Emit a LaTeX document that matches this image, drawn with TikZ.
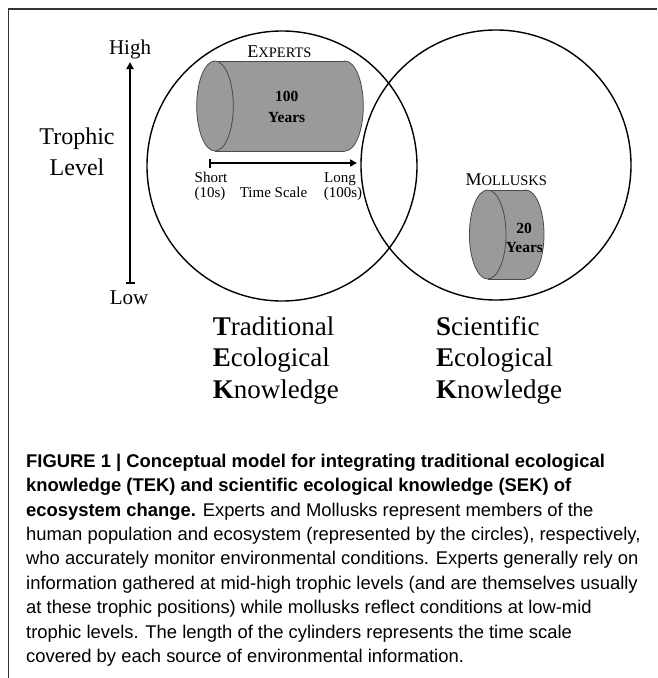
\documentclass[tikz,border=0pt]{standalone}
\usepackage{fontspec}
\setmainfont{Liberation Serif}
\newfontfamily\capfont{Liberation Sans}
\usetikzlibrary{arrows.meta}
\definecolor{cylgray}{HTML}{9A9A9A}
\definecolor{cyledge}{HTML}{4A4A4A}
\definecolor{framegray}{HTML}{333333}
\newcommand{\fsz}[1]{\fontsize{#1}{#1}\selectfont}
\newcommand{\smc}[2]{{\fsz{18}#1}{\fsz{14.5}#2}}
\begin{document}
\begin{tikzpicture}[x=1pt,y=-1pt,
  lbl/.style={inner sep=0pt, anchor=base},
  capline/.style={inner sep=0pt, anchor=base west, font=\capfont\fsz{18.4}},
  ring/.style={line width=1.4pt, draw=black},
  axisarrow/.style={line width=2pt, {Bar[width=9pt,line width=1.6pt]}-{Triangle[width=7pt,length=7pt]}},
  cylbody/.style={fill=cylgray, draw=cyledge, line width=0.8pt},
  knowledge/.style={inner sep=0pt, anchor=base west, font=\fsz{27}}]
\useasboundingbox (0,0) rectangle (657,678);
% frame
\draw[framegray, line width=1.5pt] (8.5,678) -- (8.5,9) -- (657,9);
% circles
\draw[ring] (282,166) circle[radius=135];
\draw[ring] (496,165) circle[radius=135];
% trophic axis
\node[lbl, font=\fsz{21}] (high) at (130,54) {High};
\node[lbl, font=\fsz{21}] (low) at (129,304) {Low};
\coordinate (tlow) at (130,283.5);
\coordinate (thigh) at (130,62);
\draw[axisarrow] (tlow) -- (thigh);
\node[lbl, font=\fsz{24}] (trophic) at (77,144) {Trophic};
\node[lbl, font=\fsz{24}] (level) at (77,175) {Level};
% experts cylinder
\draw[cylbody] (345,106) ellipse[x radius=18.3, y radius=45];
\fill[cylgray] (215,61.4) rectangle (345,150.6);
\draw[cyledge, line width=0.8pt] (215,61) -- (345,61) (215,151) -- (345,151);
\draw[cylbody] (215,106) ellipse[x radius=18.3, y radius=45];
\node[lbl] (experts) at (279.5,57.3) {\smc{E}{XPERTS}};
\node[lbl, font=\bfseries\fsz{15.5}] (hundred) at (286.7,101.7) {100};
\node[lbl, font=\bfseries\fsz{15.5}] (years1) at (286.7,122.3) {Years};
% time scale
\coordinate (tsl) at (209,163);
\coordinate (tsr) at (357,163);
\draw[axisarrow] (tsl) -- (tsr);
\node[lbl, font=\fsz{15}] (short) at (211,182.7) {Short};
\node[lbl, font=\fsz{15}] (ten) at (210,197) {(10s)};
\node[lbl, font=\fsz{15}] (tscale) at (273.5,197) {Time Scale};
\node[lbl, font=\fsz{15}] (long) at (340,182.7) {Long};
\node[lbl, font=\fsz{15}] (hund) at (343,197) {(100s)};
% mollusks cylinder
\draw[cylbody] (525.7,234.5) ellipse[x radius=18.3, y radius=44.5];
\fill[cylgray] (487.7,190.4) rectangle (525.7,278.6);
\draw[cyledge, line width=0.8pt] (487.7,190) -- (525.7,190) (487.7,279) -- (525.7,279);
\draw[cylbody] (487.7,234.5) ellipse[x radius=18.3, y radius=44.5];
\node[lbl] (mollusks) at (506.3,185) {\smc{M}{OLLUSKS}};
\node[lbl, font=\bfseries\fsz{15.5}] (twenty) at (524,233) {20};
\node[lbl, font=\bfseries\fsz{15.5}] (years2) at (524.5,252) {Years};
% knowledge labels
\node[knowledge] (t1) at (212.7,335) {\textbf{T}raditional};
\node[knowledge] (t2) at (212.7,366.7) {\textbf{E}cological};
\node[knowledge] (t3) at (212.7,398.4) {\textbf{K}nowledge};
\node[knowledge] (s1) at (436,335) {\textbf{S}cientific};
\node[knowledge] (s2) at (436,366.7) {\textbf{E}cological};
\node[knowledge] (s3) at (436,398.4) {\textbf{K}nowledge};
% caption
\node[capline] (c1) at (26,467.3) {\bfseries FIGURE 1 | Conceptual model for integrating traditional ecological};
\node[capline] (c2) at (26,491.7) {\bfseries knowledge (TEK) and scientific ecological knowledge (SEK) of};
\node[capline] (c3) at (26,516.1) {\textbf{ecosystem change.} Experts and Mollusks represent members of the};
\node[capline] (c4) at (26,540.5) {human population and ecosystem (represented by the circles), respectively,};
\node[capline] (c5) at (26,564.9) {who accurately monitor environmental conditions. Experts generally rely on};
\node[capline] (c6) at (26,589.3) {information gathered at mid-high trophic levels (and are themselves usually};
\node[capline] (c7) at (26,613.7) {at these trophic positions) while mollusks reflect conditions at low-mid};
\node[capline] (c8) at (26,638.1) {trophic levels. The length of the cylinders represents the time scale};
\node[capline] (c9) at (26,662.5) {covered by each source of environmental information.};
\end{tikzpicture}
\end{document}
